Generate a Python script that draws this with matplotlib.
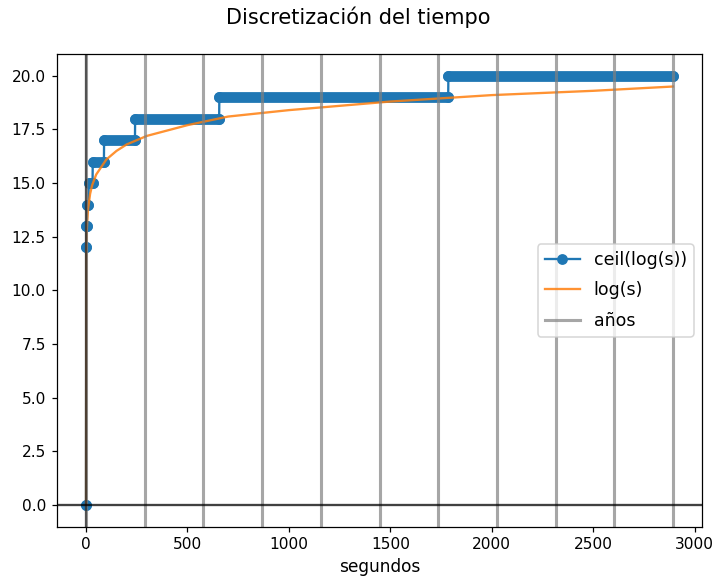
import matplotlib.pyplot as plt

# ceil(log(s)) as steps: level, first and last sample (x) on that level
step_levels = [0, 12, 13, 14, 15, 16, 17, 18, 19, 20]
step_start = [0, 1, 2, 5, 13, 33, 89, 242, 657, 1786]
step_end = [0, 1, 4, 12, 32, 88, 241, 656, 1785, 2893]

# log(s)
log_x = [0, 1, 2, 3, 5, 10, 20, 30, 50, 100, 150, 200, 300, 500, 700,
         1000, 1500, 2000, 2500, 2893]
log_y = [0, 11.5, 12.2, 12.6, 13.1, 13.8, 14.5, 14.9, 15.4, 16.1, 16.5,
         16.8, 17.2, 17.7, 18.1, 18.4, 18.8, 19.1, 19.3, 19.5]

# "años" vertical lines
anios = [0, 289.4, 578.8, 868.2, 1157.6, 1447, 1736.4, 2025.8, 2315.2,
         2604.6, 2894]

fig = plt.figure(figsize=(716 / 111, 581 / 111), dpi=111)
ax = fig.add_axes([0.0792, 0.0938, 0.9017, 0.8127])

# thin path through step endpoints, markers at the ends
path_x, path_y = [], []
for lvl, a, b in zip(step_levels, step_start, step_end):
    path_x += [a, b]
    path_y += [lvl, lvl]
ax.plot(path_x, path_y, "-o", color="C0", label="ceil(log(s))")
# dense samples on each level look like a thick rounded band
for lvl, a, b in zip(step_levels, step_start, step_end):
    if b > a:
        ax.plot([a, b], [lvl, lvl], color="C0", lw=7, solid_capstyle="round")

ax.plot(log_x, log_y, color="C1", alpha=0.85, label="log(s)")

for i, a in enumerate(anios):
    ax.axvline(a, color="gray", lw=2, alpha=0.7,
               label="años" if i == 0 else None)
ax.axhline(0, color="k", lw=1.5, alpha=0.75)
ax.axvline(0, color="k", lw=1.5, alpha=0.5)

ax.set_xlabel("segundos", fontsize=11)
fig.suptitle("Discretización del tiempo", fontsize=13.5, y=0.988)
ax.legend(loc="center right", fontsize=11.3, labelspacing=0.7)
fig.savefig("out.png", dpi=111)
